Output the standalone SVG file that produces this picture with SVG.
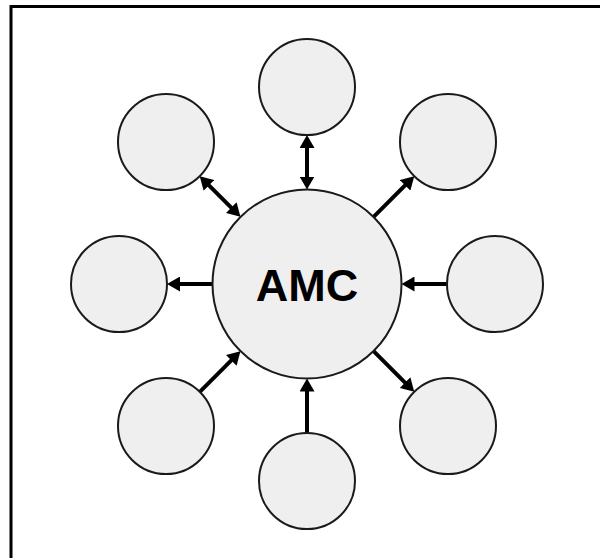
<svg xmlns="http://www.w3.org/2000/svg" width="600" height="558" viewBox="0 0 600 558">
  <style>
    .node { fill: #efefef; stroke: #1a1a1a; stroke-width: 2; }
    .link { stroke: #000; stroke-width: 4; fill: none; }
    .label { font-family: "Liberation Sans", Arial, sans-serif; font-weight: bold; font-size: 45px; fill: #000; text-anchor: middle; }
    .frame { stroke: #000; stroke-width: 3; fill: none; }
  </style>
  <defs>
    <marker id="head" markerUnits="userSpaceOnUse" markerWidth="14" markerHeight="15" refX="6" refY="7.5" orient="auto-start-reverse">
      <path d="M0,0 L13,7.5 L0,15 z" fill="#000"/>
    </marker>
  </defs>

  <rect width="600" height="558" fill="#fff"/>
  <!-- frame edges -->
  <path class="frame" d="M11,558 V6.5 H600"/>

  <g id="connectors">
    <!-- top: two-way -->
    <line class="link" x1="307" y1="142" x2="307" y2="182.5" marker-start="url(#head)" marker-end="url(#head)"/>
    <!-- top-left: two-way -->
    <line class="link" x1="204.7" y1="181.1" x2="235.5" y2="211.9" marker-start="url(#head)" marker-end="url(#head)"/>
    <!-- centre to top-right -->
    <line class="link" x1="373.6" y1="216.9" x2="409.3" y2="181.1" marker-end="url(#head)"/>
    <!-- right to centre -->
    <line class="link" x1="447" y1="284" x2="408.5" y2="284" marker-end="url(#head)"/>
    <!-- centre to left -->
    <line class="link" x1="212.5" y1="284" x2="174" y2="284" marker-end="url(#head)"/>
    <!-- centre to bottom-right -->
    <line class="link" x1="373.6" y1="351.1" x2="409.3" y2="386.9" marker-end="url(#head)"/>
    <!-- bottom to centre -->
    <line class="link" x1="307" y1="433" x2="307" y2="385.5" marker-end="url(#head)"/>
    <!-- bottom-left to centre -->
    <line class="link" x1="199.8" y1="391.9" x2="235.5" y2="356.1" marker-end="url(#head)"/>
  </g>

  <g id="amc">
    <circle class="node" cx="307" cy="284" r="94.5"/>
    <text class="label" x="307" y="300.5">AMC</text>
  </g>
  <g id="node-top"><circle class="node" cx="307" cy="87" r="48"/></g>
  <g id="node-top-right"><circle class="node" cx="448" cy="142" r="48"/></g>
  <g id="node-right"><circle class="node" cx="495" cy="284" r="48"/></g>
  <g id="node-bottom-right"><circle class="node" cx="448" cy="426" r="48"/></g>
  <g id="node-bottom"><circle class="node" cx="307" cy="481" r="48"/></g>
  <g id="node-bottom-left"><circle class="node" cx="166" cy="426" r="48"/></g>
  <g id="node-left"><circle class="node" cx="119" cy="284" r="48"/></g>
  <g id="node-top-left"><circle class="node" cx="166" cy="142" r="48"/></g>
</svg>
